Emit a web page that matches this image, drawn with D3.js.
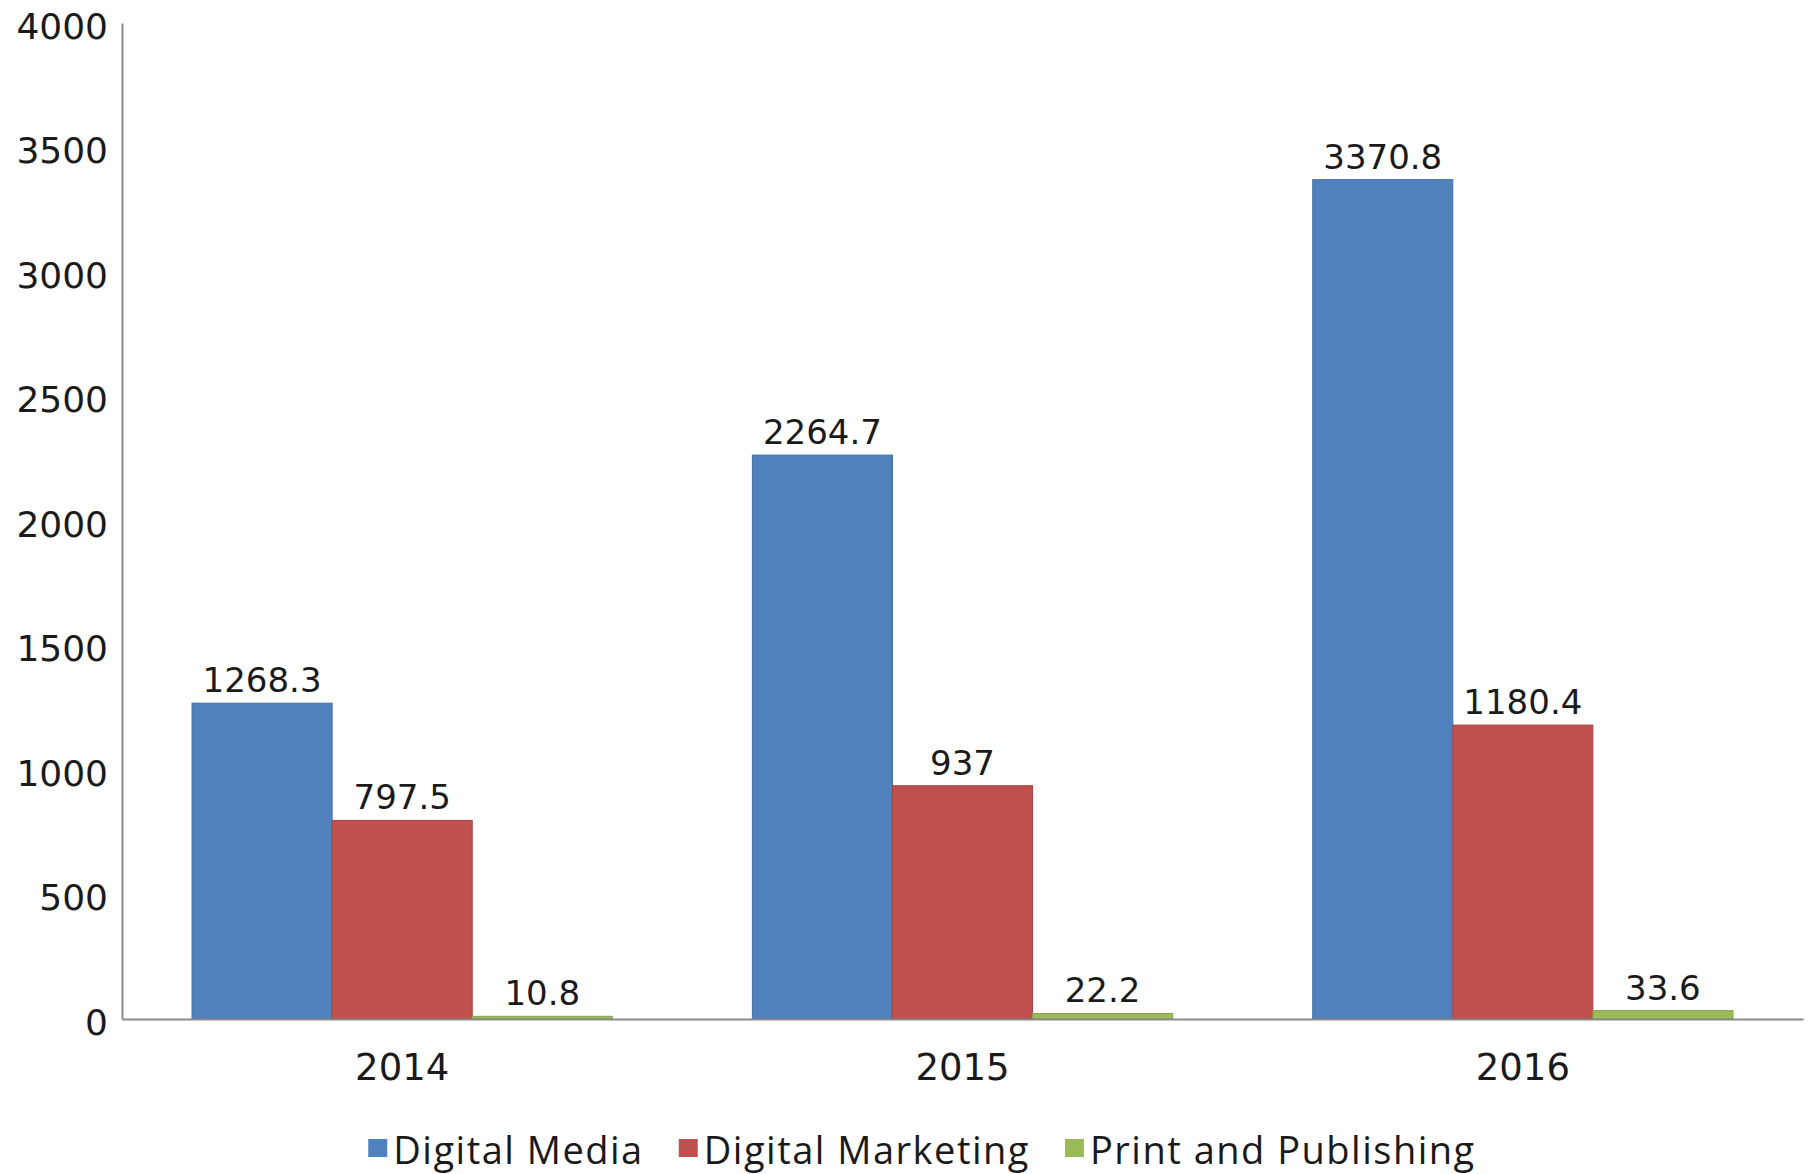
<!DOCTYPE html>
<html lang="en">
<head>
    <meta charset="UTF-8">
    <title>Revenue by segment</title>
    <script src="https://cdn.jsdelivr.net/npm/d3@7"></script>
    <style>
        body { margin: 0; background: #fff; }
        text { font-family: "DejaVu Sans", sans-serif; fill: #1a1a1a; }
        .legend text { font-family: "Open Sans", sans-serif; letter-spacing: 1.5px; }
    </style>
</head>
<body>
<div id="chart"></div>
<script>
    const years = ["2014", "2015", "2016"]
    const seriesNames = ["Digital Media", "Digital Marketing", "Print and Publishing"]
    const digitalMedia = [1268.3, 2264.7, 3370.8]
    const digitalMarketing = [797.5, 937, 1180.4]
    const printPublishing = [10.8, 22.2, 33.6]
    const yTicks = [0, 500, 1000, 1500, 2000, 2500, 3000, 3500, 4000]
    const colors = ["#4f81bd", "#c0504d", "#9bbb59"]

    const seriesValues = [digitalMedia, digitalMarketing, printPublishing]
    const data = years.map((y, i) => ({
        year: y,
        values: seriesNames.map((s, j) => ({ series: s, value: seriesValues[j][i], idx: j }))
    }))

    const width = 1812, height = 1174
    const margin = { top: 23, right: 9, bottom: 155, left: 122 }

    const svg = d3.select("#chart")
        .append("svg")
        .attr("width", width)
        .attr("height", height)

    const x0 = d3.scaleBand(years, [margin.left, width - margin.right])
        .paddingInner(0.25)
        .paddingOuter(0.125)
    const x1 = d3.scaleBand(seriesNames, [0, x0.bandwidth()])
    const y = d3.scaleLinear([0, 4000], [height - margin.bottom, margin.top])

    // y axis
    svg.append("g")
        .attr("transform", "translate(" + margin.left + ",0)")
        .call(d3.axisLeft(y).tickValues(yTicks).tickFormat(d3.format("d")).tickSize(0).tickPadding(14))
        .call(g => g.select(".domain").attr("stroke", "#8a8a8a").attr("stroke-width", 2))
        .call(g => g.selectAll(".tick text")
            .attr("font-size", 36)
            .attr("dy", "0.42em")
            .style("font-family", "DejaVu Sans"))

    // bars
    const groups = svg.append("g")
        .selectAll("g")
        .data(data)
        .join("g")
        .attr("transform", d => "translate(" + x0(d.year) + ",0)")

    groups.selectAll("rect")
        .data(d => d.values)
        .join("rect")
        .attr("x", d => x1(d.series))
        .attr("y", d => y(d.value))
        .attr("width", x1.bandwidth())
        .attr("height", d => y(0) - y(d.value))
        .attr("fill", d => colors[d.idx])
        .attr("stroke", d => d3.color(colors[d.idx]).darker(0.4))
        .attr("stroke-width", 1)

    groups.selectAll("text.val")
        .data(d => d.values)
        .join("text")
        .attr("class", "val")
        .attr("x", d => x1(d.series) + x1.bandwidth() / 2)
        .attr("y", d => y(d.value) - 11)
        .attr("text-anchor", "middle")
        .attr("font-size", 34)
        .text(d => d.value)

    // x axis
    svg.append("g")
        .attr("transform", "translate(0," + y(0) + ")")
        .call(d3.axisBottom(x0).tickSize(0).tickPadding(0))
        .call(g => g.select(".domain").attr("stroke", "#8a8a8a").attr("stroke-width", 2))
        .call(g => g.selectAll(".tick text")
            .attr("font-size", 37)
            .attr("y", 61)
            .attr("dy", 0)
            .style("font-family", "DejaVu Sans"))

    // legend
    const legend = svg.append("g").attr("class", "legend")
    let lx = 0
    seriesNames.forEach((name, i) => {
        const item = legend.append("g").attr("transform", "translate(" + lx + ",0)")
        item.append("rect")
            .attr("x", 0).attr("y", 1139)
            .attr("width", 19).attr("height", 18)
            .attr("fill", colors[i])
        const t = item.append("text")
            .attr("x", 25).attr("y", 1164)
            .attr("font-size", 38)
            .text(name)
        lx += 25 + t.node().getComputedTextLength() + 35
    })
    const legendW = lx - 35
    legend.attr("transform", "translate(" + (922 - legendW / 2) + ",0)")
</script>
</body>
</html>
